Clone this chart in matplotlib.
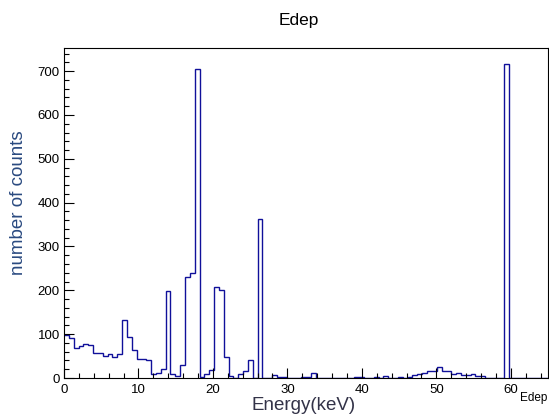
import numpy as np
import matplotlib
matplotlib.use("Agg")
import matplotlib.pyplot as plt
from matplotlib.ticker import MultipleLocator

plt.rcParams['font.family'] = ['Liberation Sans', 'DejaVu Sans']

# Histogram: 100 bins from 0 to 65 keV
x_min = 0.0
x_max = 65.0
n_bins = 100
counts = [
    97, 92, 68, 72, 77, 76, 58, 58, 51, 55,      # 0-9
    49, 55, 133, 94, 64, 43, 43, 40, 9, 12,      # 10-19
    20, 198, 9, 5, 30, 231, 239, 705, 3, 9,      # 20-29
    18, 208, 201, 48, 4, 1, 8, 16, 40, 1,        # 30-39
    363, 0, 0, 6, 2, 2, 0, 0, 0, 2,              # 40-49
    3, 11, 0, 0, 0, 0, 0, 0, 0, 0,               # 50-59
    2, 2, 1, 0, 2, 1, 5, 1, 1, 3,                # 60-69
    1, 2, 7, 8, 12, 16, 17, 24, 17, 15,          # 70-79
    8, 11, 7, 7, 8, 4, 5, 1, 1, 0,               # 80-89
    0, 717, 0, 0, 0, 0, 0, 0, 0, 0,              # 90-99
]

title = "Edep"
x_label = "Energy(keV)"
y_label = "number of counts"
stats_name = "Edep"

edges = np.linspace(x_min, x_max, n_bins + 1)
vals = np.array(counts, dtype=float)

fig = plt.figure(figsize=(5.49, 4.15), dpi=100)
ax = fig.add_axes([64/549, 37/415, (548-64)/549, (378-48)/415])

ax.stairs(vals, edges, color='#10109a', linewidth=1.0, baseline=None)

ax.set_xlim(x_min, x_max)
ax.set_ylim(0, 1.05 * vals.max())

ax.xaxis.set_major_locator(MultipleLocator(10))
ax.xaxis.set_minor_locator(MultipleLocator(2))
ax.yaxis.set_major_locator(MultipleLocator(100))
ax.yaxis.set_minor_locator(MultipleLocator(20))
ax.tick_params(which='both', direction='in', top=False, right=False, labelsize=9.5, colors='black')
ax.tick_params(which='major', length=7, width=0.8)
ax.tick_params(which='minor', length=3.6, width=0.8)
ax.tick_params(axis='x', pad=4)
ax.tick_params(axis='y', pad=3)
for s in ax.spines.values():
    s.set_linewidth(0.8)

fig.text(0.545, 1 - 20/415, title, ha='center', va='center', fontsize=12.5)
fig.text(304/549, 1 - 405/415, x_label, ha='center', va='center', fontsize=13.5, color='#333348')
fig.text(19/549, 1 - 203/415, y_label, ha='center', va='center', rotation=90, fontsize=13.5, color='#2a4a80')
fig.text(547/549, 1 - 398/415, stats_name, ha='right', va='center', fontsize=8.5)

fig.savefig("out.png", dpi=100)
